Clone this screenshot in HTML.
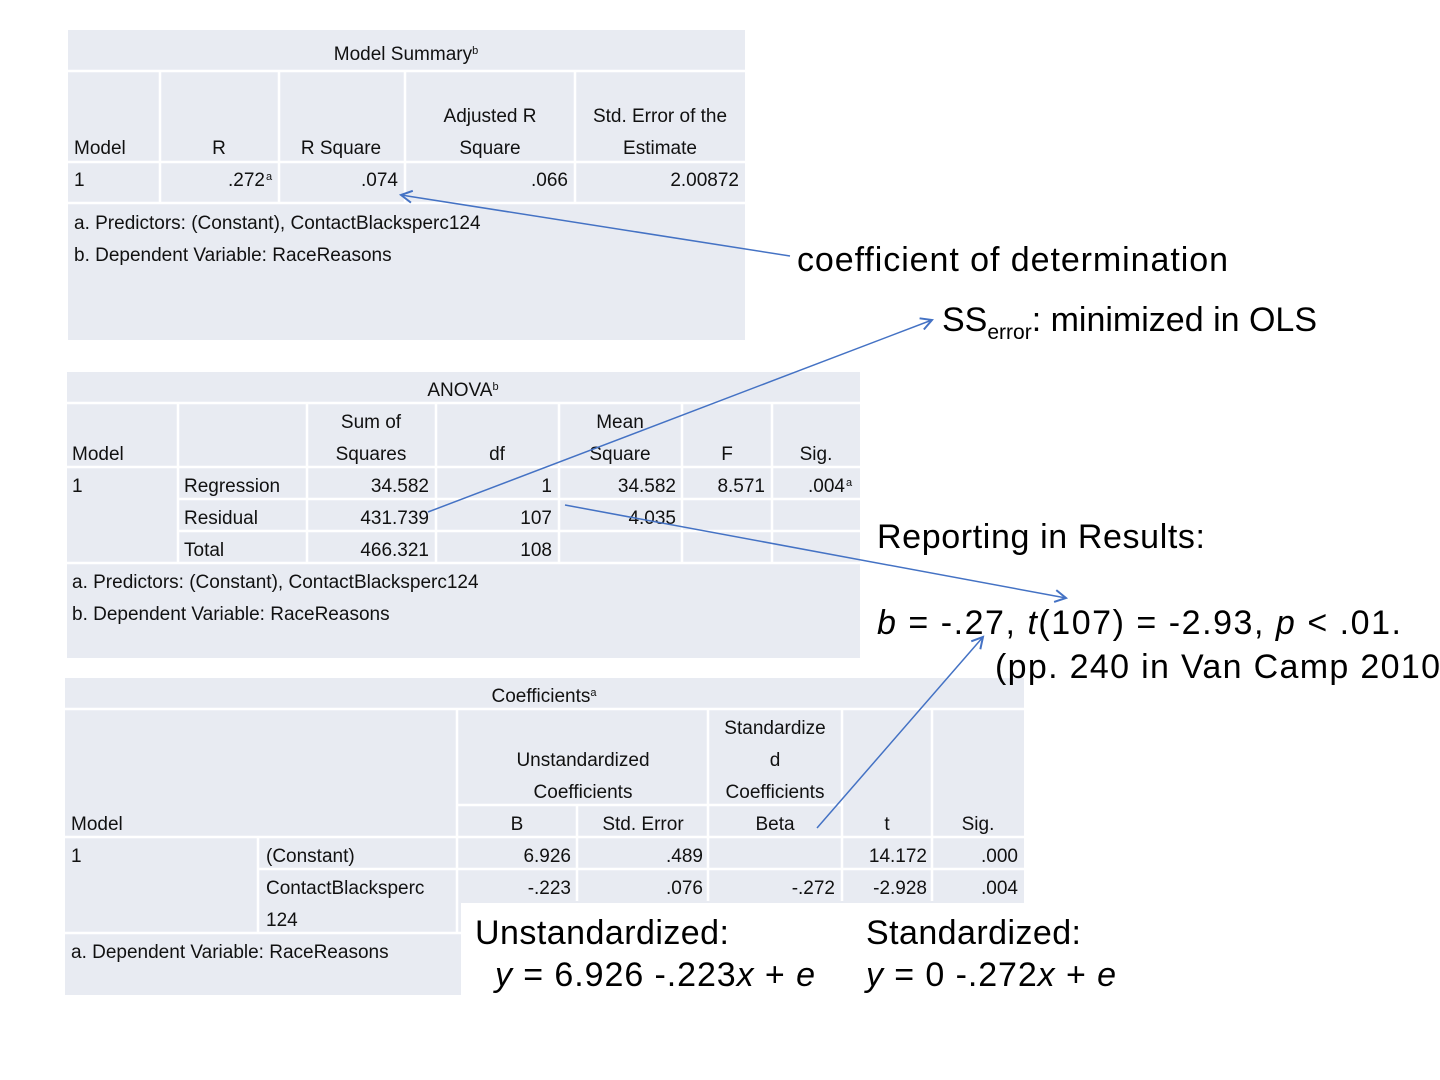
<!DOCTYPE html>
<html><head><meta charset="utf-8"><style>
html,body{margin:0;padding:0;background:#fff;}
svg{display:block;}
.t{font-family:"Liberation Sans",sans-serif;font-size:19px;fill:#111;}
.a{font-family:"Liberation Sans",sans-serif;font-size:34px;fill:#000;}
.s{font-size:11px;}
</style></head><body>
<svg width="1440" height="1080" viewBox="0 0 1440 1080" xmlns="http://www.w3.org/2000/svg">
<defs><marker id="ah" markerWidth="14" markerHeight="14" refX="12" refY="7" orient="auto" markerUnits="userSpaceOnUse"><path d="M1,1 L12,7 L1,13" fill="none" stroke="#4472c4" stroke-width="2"/></marker></defs>
<g fill="#e8ebf2">
<rect x="68" y="30" width="677" height="310"/>
<rect x="67" y="372" width="793" height="286"/>
<rect x="65" y="678" width="959" height="225"/>
<rect x="65" y="678" width="396" height="317"/>
</g>
<g stroke="#fff" stroke-width="2.5">
<line x1="68" y1="71" x2="745" y2="71"/><line x1="68" y1="162" x2="745" y2="162"/><line x1="68" y1="203" x2="745" y2="203"/>
<line x1="160" y1="71" x2="160" y2="203"/><line x1="279" y1="71" x2="279" y2="203"/><line x1="405" y1="71" x2="405" y2="203"/><line x1="575" y1="71" x2="575" y2="203"/>
<line x1="67" y1="403" x2="860" y2="403"/><line x1="67" y1="467" x2="860" y2="467"/><line x1="178" y1="499" x2="860" y2="499"/><line x1="178" y1="531" x2="860" y2="531"/><line x1="67" y1="563" x2="860" y2="563"/>
<line x1="178" y1="403" x2="178" y2="563"/><line x1="307" y1="403" x2="307" y2="563"/><line x1="436" y1="403" x2="436" y2="563"/><line x1="559" y1="403" x2="559" y2="563"/><line x1="682" y1="403" x2="682" y2="563"/><line x1="772" y1="403" x2="772" y2="563"/>
<line x1="65" y1="709" x2="1024" y2="709"/><line x1="457" y1="805" x2="842" y2="805"/><line x1="65" y1="837" x2="1024" y2="837"/><line x1="258" y1="869" x2="1024" y2="869"/><line x1="65" y1="933" x2="461" y2="933"/>
<line x1="258" y1="837" x2="258" y2="933"/><line x1="457" y1="709" x2="457" y2="933"/><line x1="577" y1="805" x2="577" y2="901"/><line x1="708" y1="709" x2="708" y2="901"/><line x1="842" y1="709" x2="842" y2="901"/><line x1="932" y1="709" x2="932" y2="901"/>
</g>
<g class="t">
<text x="406" y="60" text-anchor="middle">Model Summary<tspan class="s" dy="-6">b</tspan></text>
<text x="74" y="154">Model</text><text x="219" y="154" text-anchor="middle">R</text><text x="341" y="154" text-anchor="middle">R Square</text>
<text x="490" y="122" text-anchor="middle">Adjusted R</text><text x="490" y="154" text-anchor="middle">Square</text>
<text x="660" y="122" text-anchor="middle">Std. Error of the</text><text x="660" y="154" text-anchor="middle">Estimate</text>
<text x="74" y="186">1</text><text x="265" y="186" text-anchor="end">.272</text><text x="266" y="180" class="s">a</text>
<text x="398" y="186" text-anchor="end">.074</text><text x="568" y="186" text-anchor="end">.066</text><text x="739" y="186" text-anchor="end">2.00872</text>
<text x="74" y="229">a. Predictors: (Constant), ContactBlacksperc124</text>
<text x="74" y="261">b. Dependent Variable: RaceReasons</text>

<text x="463" y="396" text-anchor="middle">ANOVA<tspan class="s" dy="-6">b</tspan></text>
<text x="72" y="460">Model</text>
<text x="371" y="428" text-anchor="middle">Sum of</text><text x="371" y="460" text-anchor="middle">Squares</text>
<text x="497" y="460" text-anchor="middle">df</text>
<text x="620" y="428" text-anchor="middle">Mean</text><text x="620" y="460" text-anchor="middle">Square</text>
<text x="727" y="460" text-anchor="middle">F</text><text x="816" y="460" text-anchor="middle">Sig.</text>
<text x="72" y="492">1</text><text x="184" y="492">Regression</text><text x="429" y="492" text-anchor="end">34.582</text><text x="552" y="492" text-anchor="end">1</text><text x="676" y="492" text-anchor="end">34.582</text><text x="765" y="492" text-anchor="end">8.571</text><text x="845" y="492" text-anchor="end">.004</text><text x="846" y="486" class="s">a</text>
<text x="184" y="524">Residual</text><text x="429" y="524" text-anchor="end">431.739</text><text x="552" y="524" text-anchor="end">107</text><text x="676" y="524" text-anchor="end">4.035</text>
<text x="184" y="556">Total</text><text x="429" y="556" text-anchor="end">466.321</text><text x="552" y="556" text-anchor="end">108</text>
<text x="72" y="588">a. Predictors: (Constant), ContactBlacksperc124</text>
<text x="72" y="620">b. Dependent Variable: RaceReasons</text>

<text x="544" y="702" text-anchor="middle">Coefficients<tspan class="s" dy="-6">a</tspan></text>
<text x="583" y="766" text-anchor="middle">Unstandardized</text><text x="583" y="798" text-anchor="middle">Coefficients</text>
<text x="775" y="734" text-anchor="middle">Standardize</text><text x="775" y="766" text-anchor="middle">d</text><text x="775" y="798" text-anchor="middle">Coefficients</text>
<text x="71" y="830">Model</text><text x="517" y="830" text-anchor="middle">B</text><text x="643" y="830" text-anchor="middle">Std. Error</text><text x="775" y="830" text-anchor="middle">Beta</text><text x="887" y="830" text-anchor="middle">t</text><text x="978" y="830" text-anchor="middle">Sig.</text>
<text x="71" y="862">1</text><text x="266" y="862">(Constant)</text><text x="571" y="862" text-anchor="end">6.926</text><text x="703" y="862" text-anchor="end">.489</text><text x="927" y="862" text-anchor="end">14.172</text><text x="1018" y="862" text-anchor="end">.000</text>
<text x="266" y="894">ContactBlacksperc</text><text x="571" y="894" text-anchor="end">-.223</text><text x="703" y="894" text-anchor="end">.076</text><text x="835" y="894" text-anchor="end">-.272</text><text x="927" y="894" text-anchor="end">-2.928</text><text x="1018" y="894" text-anchor="end">.004</text>
<text x="266" y="926">124</text>
<text x="71" y="958">a. Dependent Variable: RaceReasons</text>
</g>
<g class="a">
<text x="797" y="271" textLength="431">coefficient of determination</text>
<text x="942" y="331">SS<tspan font-size="21" dy="8">error</tspan><tspan dy="-8">: minimized in OLS</tspan></text>
<text x="877" y="548" textLength="328">Reporting in Results:</text>
<text x="877" y="634" textLength="524"><tspan font-style="italic">b</tspan> = -.27, <tspan font-style="italic">t</tspan>(107) = -2.93, <tspan font-style="italic">p</tspan> &lt; .01.</text>
<text x="995" y="678" textLength="445">(pp. 240 in Van Camp 2010</text>
<text x="475" y="944" textLength="254">Unstandardized:</text>
<text x="495" y="986" textLength="320"><tspan font-style="italic">y</tspan> = 6.926 -.223<tspan font-style="italic">x</tspan> + <tspan font-style="italic">e</tspan></text>
<text x="866" y="944" textLength="215">Standardized:</text>
<text x="866" y="986" textLength="250"><tspan font-style="italic">y</tspan> = 0 -.272<tspan font-style="italic">x</tspan> + <tspan font-style="italic">e</tspan></text>
</g>
<g stroke="#4472c4" stroke-width="1.5" fill="none" marker-end="url(#ah)">
<line x1="790" y1="256" x2="401" y2="195"/>
<line x1="428" y1="512" x2="932" y2="320"/>
<line x1="565" y1="505" x2="1066" y2="598"/>
<line x1="817" y1="828" x2="983" y2="637"/>
</g>
</svg>
</body></html>
